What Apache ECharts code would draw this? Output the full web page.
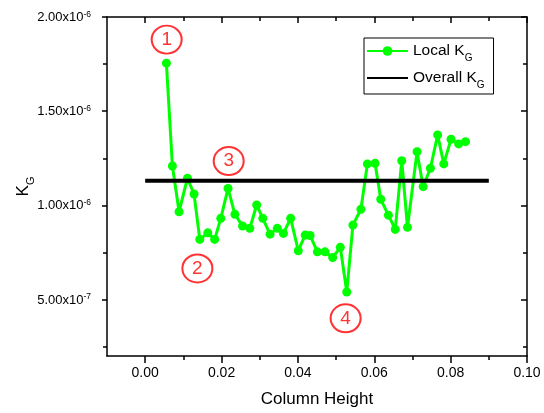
<!DOCTYPE html>
<html><head><meta charset="utf-8">
<script src="https://cdn.jsdelivr.net/npm/echarts@6/dist/echarts.min.js"></script>
<style>html,body{margin:0;padding:0;background:#fff}#c{width:544px;height:413px}</style>
</head><body><div id="c"></div>
<script>
// ---- data ----
const columnHeight = [0.00556,0.00713,0.00888,0.01107,0.0128,0.0143,0.0164,0.0182,0.0198,0.0217,
  0.0235,0.0255,0.0274,0.0292,0.0308,0.0327,0.0346,0.0362,0.0381,0.0401,
  0.0419,0.0432,0.0451,0.0471,0.0491,0.0511,0.0528,0.0544,0.0565,0.0582,
  0.0602,0.0617,0.0637,0.0655,0.0672,0.0687,0.0712,0.0728,0.0747,0.0766,
  0.0782,0.0801,0.0821,0.0839];
const localKG = [1.755e-6,1.209e-6,0.966e-6,1.144e-6,1.06e-6,0.819e-6,0.854e-6,0.819e-6,0.931e-6,1.09e-6,
  0.952e-6,0.890e-6,0.878e-6,1.002e-6,0.931e-6,0.847e-6,0.878e-6,0.851e-6,0.931e-6,0.759e-6,
  0.842e-6,0.840e-6,0.753e-6,0.753e-6,0.723e-6,0.777e-6,0.540e-6,0.895e-6,0.979e-6,1.220e-6,
  1.223e-6,1.032e-6,0.948e-6,0.872e-6,1.237e-6,0.883e-6,1.285e-6,1.099e-6,1.197e-6,1.374e-6,
  1.220e-6,1.351e-6,1.326e-6,1.338e-6];
const overallX = [0, 0.09];
const overallKG = [1.13e-6, 1.13e-6];
const seriesNames = ['Local K_G', 'Overall K_G'];
const xMajorTicks = [0, 0.02, 0.04, 0.06, 0.08, 0.10];
const xMinorTicks = [0.01, 0.03, 0.05, 0.07, 0.09];
const yMajorTicks = [5e-7, 1e-6, 1.5e-6, 2e-6];
const yMinorTicks = [2.5e-7, 7.5e-7, 1.25e-6, 1.75e-6];
const annotationLabels = ['1', '2', '3', '4'];
const annotationX = [0.00563, 0.01367, 0.02187, 0.0525];
const annotationY = [1.88e-6, 0.665e-6, 1.235e-6, 0.40e-6];

// ---- chart ----
const FONT = '"Liberation Sans", Arial, sans-serif';
const X_MIN = -0.01, X_MAX = 0.10, Y_MIN = 2e-7, Y_MAX = 2e-6;
const BLACK = '#000';

function sci(v) {
  const e = Math.floor(Math.log10(v) + 1e-9);
  const m = v / Math.pow(10, e);
  return '{a|' + m.toFixed(2) + 'x10}{s|' + e + '}';
}
function subName(n) {
  const p = n.split('_');
  return '{a|' + p[0] + '}{s|' + p[1] + '}';
}

function xAx(pos, ticks, len, inside, showLine, extra) {
  return Object.assign({
    type: 'value', min: X_MIN, max: X_MAX, position: pos,
    axisLine: { show: showLine, onZero: false, lineStyle: { color: BLACK, width: 1.5 } },
    axisTick: { show: true, inside: inside, customValues: ticks, length: len, lineStyle: { color: BLACK, width: 1.5 } },
    axisLabel: { show: false },
    splitLine: { show: false }
  }, extra || {});
}
function yAx(pos, ticks, len, inside, showLine, extra) {
  return Object.assign({
    type: 'value', min: Y_MIN, max: Y_MAX, position: pos,
    axisLine: { show: showLine, onZero: false, lineStyle: { color: BLACK, width: 1.5 } },
    axisTick: { show: true, inside: inside, customValues: ticks, length: len, lineStyle: { color: BLACK, width: 1.5 } },
    axisLabel: { show: false },
    splitLine: { show: false }
  }, extra || {});
}

const chart = echarts.init(document.getElementById('c'), null, { renderer: 'canvas' });
chart.setOption({
  animation: false,
  backgroundColor: '#fff',
  grid: { left: 107, right: 17, top: 17, bottom: 57, containLabel: false, outerBoundsMode: 'none' },
  legend: {
    data: [
      { name: seriesNames[0] },
      { name: seriesNames[1], itemStyle: { opacity: 0 } }
    ],
    orient: 'vertical', left: 364, top: 38,
    itemWidth: 41, itemHeight: 12, itemGap: 3,
    padding: [1, 9, 4, 2],
    borderColor: BLACK, borderWidth: 1,
    selectedMode: false,
    formatter: subName,
    textStyle: {
      rich: {
        a: { fontSize: 15.5, lineHeight: 16, verticalAlign: 'middle', color: BLACK, fontFamily: FONT },
        s: { fontSize: 10, lineHeight: 10, padding: [14, 0, 0, 0], verticalAlign: 'middle', color: BLACK, fontFamily: FONT }
      }
    }
  },
  xAxis: [
    xAx('bottom', xMajorTicks, 7, false, true, {
      axisLabel: { show: true, customValues: xMajorTicks, formatter: v => v.toFixed(2), fontSize: 14, color: BLACK, margin: 10, fontFamily: FONT },
      name: 'Column Height', nameLocation: 'middle', nameGap: 35, nameMoveOverlap: false,
      nameTextStyle: { fontSize: 17, color: BLACK, fontFamily: FONT }
    }),
    xAx('bottom', xMinorTicks, 4, false, false),
    xAx('top', xMajorTicks, 6, true, true),
    xAx('top', xMinorTicks, 4, true, false)
  ],
  yAxis: [
    yAx('left', yMajorTicks, 5, false, true, {
      axisLabel: { show: true, customValues: yMajorTicks, formatter: sci, margin: 16,
        rich: {
          a: { fontSize: 13, lineHeight: 14, verticalAlign: 'bottom', color: BLACK, fontFamily: FONT },
          s: { fontSize: 8.5, lineHeight: 8, verticalAlign: 'top', color: BLACK, fontFamily: FONT }
        }
      },
      name: subName('K_G'), nameLocation: 'middle', nameGap: 75, nameMoveOverlap: false,
      nameTextStyle: {
        rich: {
          a: { fontSize: 17, lineHeight: 17, verticalAlign: 'middle', color: BLACK, fontFamily: FONT },
          s: { fontSize: 11, lineHeight: 11, padding: [14, 0, 0, 0], verticalAlign: 'middle', color: BLACK, fontFamily: FONT }
        }
      }
    }),
    yAx('left', yMinorTicks, 4, false, false),
    yAx('right', yMajorTicks, 6, true, true),
    yAx('right', yMinorTicks, 4, true, false)
  ],
  series: [
    {
      name: seriesNames[0], type: 'line', xAxisIndex: 0, yAxisIndex: 0,
      data: columnHeight.map((x, i) => [x, localKG[i]]),
      symbol: 'circle', symbolSize: 9, showSymbol: true,
      itemStyle: { color: '#00ff00' },
      lineStyle: { color: '#00ff00', width: 3 },
      z: 2
    },
    {
      name: seriesNames[1], type: 'line', xAxisIndex: 0, yAxisIndex: 0,
      data: overallX.map((x, i) => [x, overallKG[i]]),
      symbol: 'none', showSymbol: false,
      itemStyle: { color: BLACK },
      lineStyle: { color: BLACK, width: 4 },
      z: 3
    },
    {
      name: 'annotations', type: 'scatter', xAxisIndex: 0, yAxisIndex: 0,
      data: annotationX.map((x, i) => [x, annotationY[i], annotationLabels[i]]),
      symbol: 'circle', symbolSize: [30, 28],
      itemStyle: { color: 'rgba(0,0,0,0)', borderColor: '#ff0000', borderWidth: 2 },
      label: { show: true, position: 'inside', formatter: p => p.data[2], color: '#ff0000', fontSize: 19, fontFamily: FONT },
      emphasis: { disabled: true },
      z: 4
    }
  ]
});
</script>
</body></html>
